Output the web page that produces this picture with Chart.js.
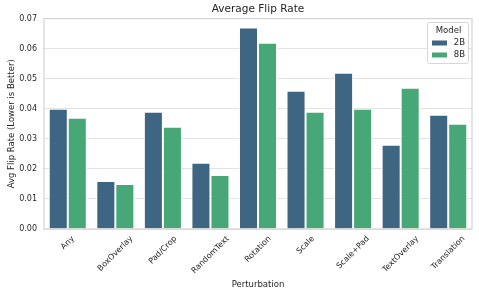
<!DOCTYPE html>
<html><head><meta charset="utf-8">
<script src="https://cdn.jsdelivr.net/npm/chart.js@4/dist/chart.umd.min.js"></script>
<style>html,body{margin:0;padding:0;background:#fff}#wrap{width:479px;height:296px}</style>
</head><body><div id="wrap"><canvas id="c" width="479" height="296"></canvas></div>
<script>
const categories = ["Any","BoxOverlay","Pad/Crop","RandomText","Rotation","Scale","Scale+Pad","TextOverlay","Translation"];
const values2B = [0.040,0.016,0.039,0.022,0.067,0.046,0.052,0.028,0.038];
const values8B = [0.037,0.015,0.034,0.018,0.062,0.039,0.040,0.047,0.035];
const seriesNames = ["2B","8B"];
const yTicks = [0,0.01,0.02,0.03,0.04,0.05,0.06,0.07];
const colors = ["#3e6582","#47a777"];
const FONT = "'DejaVu Sans', sans-serif";
const TXT = "#262626";

const legendPlugin = {
  id:'customLegend',
  afterDraw(chart){
    const ctx = chart.ctx;
    const x0 = 427, y0 = 22, w = 41, h = 41;
    ctx.save();
    ctx.fillStyle = 'rgba(255,255,255,0.85)';
    ctx.strokeStyle = '#d6d6d6';
    ctx.lineWidth = 1;
    ctx.beginPath();
    ctx.roundRect ? ctx.roundRect(x0+0.5,y0+0.5,w,h,2) : ctx.rect(x0+0.5,y0+0.5,w,h);
    ctx.fill(); ctx.stroke();
    ctx.fillStyle = TXT;
    ctx.font = "8.5px " + FONT;
    ctx.textAlign = 'center'; ctx.textBaseline = 'middle';
    ctx.fillText("Model", x0 + w/2 + 1, y0 + 8.5);
    chart.data.datasets.forEach((ds,i)=>{
      const yy = y0 + 21 + i*12;
      ctx.fillStyle = ds.backgroundColor;
      ctx.fillRect(x0+5, yy-2.5, 15, 5);
      ctx.fillStyle = TXT;
      ctx.textAlign = 'right';
      ctx.fillText(ds.label, x0 + w - 3, yy);
    });
    ctx.restore();
  }
};
const framePlugin = {
  id:'frame',
  afterDatasetsDraw(chart){
    const a = chart.chartArea, ctx = chart.ctx;
    ctx.save();
    ctx.strokeStyle = '#d4d4d4';
    ctx.lineWidth = 1.2;
    ctx.strokeRect(a.left, a.top, a.right-a.left, a.bottom-a.top);
    ctx.restore();
  }
};
// x tick labels rotated 45deg, bbox centred under the tick (matplotlib style)
const xLabelPlugin = {
  id:'xLabels',
  afterDraw(chart){
    const ctx = chart.ctx, sx = chart.scales.x, a = chart.chartArea;
    ctx.save();
    ctx.font = "8px " + FONT;
    ctx.fillStyle = TXT;
    ctx.textAlign = 'center'; ctx.textBaseline = 'middle';
    const c = Math.SQRT1_2, th = 7;
    chart.data.labels.forEach((lab,i)=>{
      const x = sx.getPixelForValue(i);
      const w = ctx.measureText(lab).width;
      const ext = (w + th) * c;
      const cy = a.bottom + 6 + ext/2;
      ctx.save();
      ctx.translate(x, cy);
      ctx.rotate(-Math.PI/4);
      ctx.fillText(lab, 0, 0);
      ctx.restore();
    });
    ctx.restore();
  }
};

new Chart(document.getElementById('c'), {
  type:'bar',
  data:{
    labels: categories,
    datasets:[
      {label:seriesNames[0], data:values2B, backgroundColor:colors[0], borderColor:'#ffffff', borderWidth:1, categoryPercentage:0.8, barPercentage:1.0},
      {label:seriesNames[1], data:values8B, backgroundColor:colors[1], borderColor:'#ffffff', borderWidth:1, categoryPercentage:0.8, barPercentage:1.0}
    ]
  },
  options:{
    responsive:false, animation:false,
    layout:{padding:{left:7,right:7,top:0,bottom:4}},
    plugins:{
      legend:{display:false},
      tooltip:{enabled:false},
      title:{display:true, fullSize:false, text:"Average Flip Rate", color:TXT, font:{family:FONT,size:10.5,weight:'normal'}, padding:{top:3,bottom:3}}
    },
    scales:{
      x:{
        grid:{display:false},
        border:{display:false},
        ticks:{display:false},
        title:{display:true, text:"Perturbation", color:TXT, font:{family:FONT,size:8.5}, padding:{top:0,bottom:2}},
        afterFit(s){ s.height = 63; }
      },
      y:{
        min:0, max:0.07,
        grid:{color:'#e3e3e3', lineWidth:1, drawTicks:false},
        border:{display:false},
        afterBuildTicks(s){ s.ticks = yTicks.map(v=>({value:v})); },
        ticks:{color:TXT, font:{family:FONT,size:8}, padding:7, callback:v=>v.toFixed(2)},
        title:{display:true, text:"Avg Flip Rate (Lower is Better)", color:TXT, font:{family:FONT,size:8.5}, padding:{top:0,bottom:2}},
        afterFit(s){ s.width = 37; }
      }
    }
  },
  plugins:[legendPlugin, framePlugin, xLabelPlugin]
});
</script></body></html>
